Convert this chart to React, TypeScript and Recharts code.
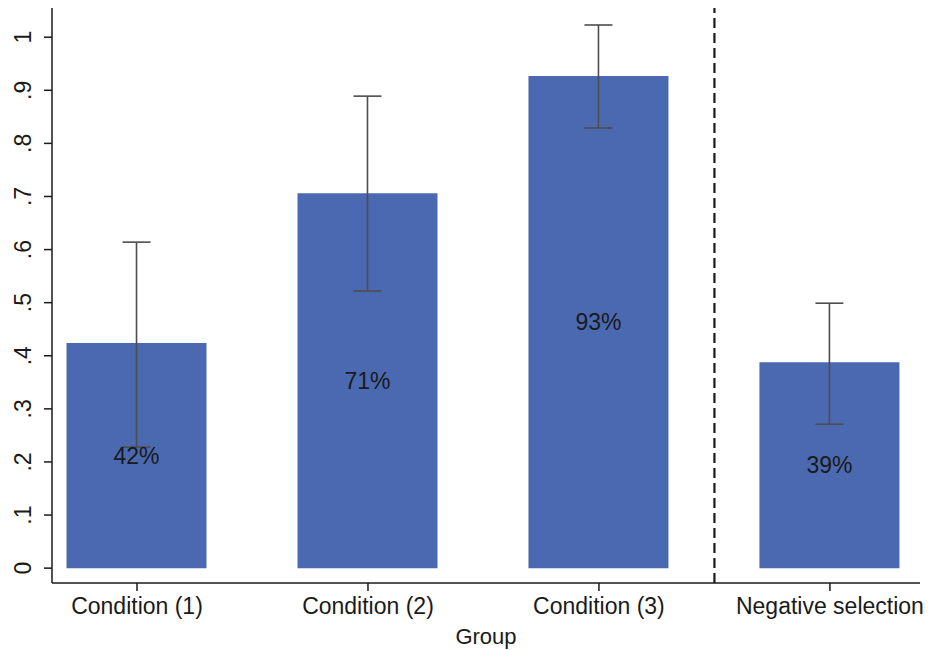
import { BarChart, Bar, XAxis, YAxis, ErrorBar, LabelList, ReferenceLine } from 'recharts';

// Share of positive responses per group, with 95% CI bounds
const categories = ['Condition (1)', 'Condition (2)', 'Condition (3)', 'Negative selection'];
const shares = [0.424, 0.706, 0.927, 0.388];
const ciLow = [0.228, 0.522, 0.829, 0.271];
const ciHigh = [0.614, 0.889, 1.023, 0.499];
const yTicks = [0, 0.1, 0.2, 0.3, 0.4, 0.5, 0.6, 0.7, 0.8, 0.9, 1];

const data = categories.map((name, i) => ({
  pos: i + 1,
  name,
  share: shares[i],
  err: [shares[i] - ciLow[i], ciHigh[i] - shares[i]],
}));

const FONT = '"Liberation Sans", Arial, Helvetica, sans-serif';
const INK = '#1a1a1a';

const fmtY = (v: number) => {
  if (v === 0) return '0';
  if (v >= 1) return '1';
  return '.' + Math.round(v * 10);
};

const YTick = (props: any) => {
  const { y, payload } = props;
  const cx = 23;
  return (
    <text
      x={cx}
      y={y}
      transform={`rotate(-90, ${cx}, ${y})`}
      textAnchor="middle"
      dominantBaseline="central"
      fontSize={23}
      fontFamily={FONT}
      fill={INK}
    >
      {fmtY(payload.value)}
    </text>
  );
};

export default function App() {
  return (
    <div style={{ position: 'absolute', left: 0, top: 0, background: '#fff' }}>
      <BarChart
        width={933}
        height={650}
        data={data}
        margin={{ top: 8, right: 13, bottom: 0, left: 0 }}
      >
        <XAxis
          type="number"
          dataKey="pos"
          domain={[0.632, 4.39]}
          allowDataOverflow
          ticks={[1, 2, 3, 4]}
          tickFormatter={(v: number) => categories[v - 1]}
          height={67}
          tickSize={8}
          tickMargin={7}
          stroke={INK}
          strokeWidth={1.5}
          tick={{ fill: INK, fontSize: 23, fontFamily: FONT }}
          label={{
            value: 'Group',
            position: 'insideBottom',
            offset: 6,
            fill: INK,
            fontSize: 22,
            fontFamily: FONT,
          }}
        />
        <YAxis
          type="number"
          domain={[-0.028, 1.055]}
          allowDataOverflow
          ticks={yTicks}
          width={52}
          tickSize={8}
          stroke={INK}
          strokeWidth={1.5}
          tick={<YTick />}
        />
        <ReferenceLine x={3.5} stroke={INK} strokeWidth={2.2} strokeDasharray="10 5" />
        <Bar dataKey="share" fill="#4a69b1" barSize={140} isAnimationActive={false}>
          <ErrorBar dataKey="err" width={14} stroke="#4d4d4d" strokeWidth={1.6} direction="y" />
          <LabelList
            dataKey="share"
            position="center"
            formatter={(v: number) => `${Math.round(v * 100)}%`}
            fill={INK}
            fontSize={23}
            fontFamily={FONT}
          />
        </Bar>
      </BarChart>
    </div>
  );
}
